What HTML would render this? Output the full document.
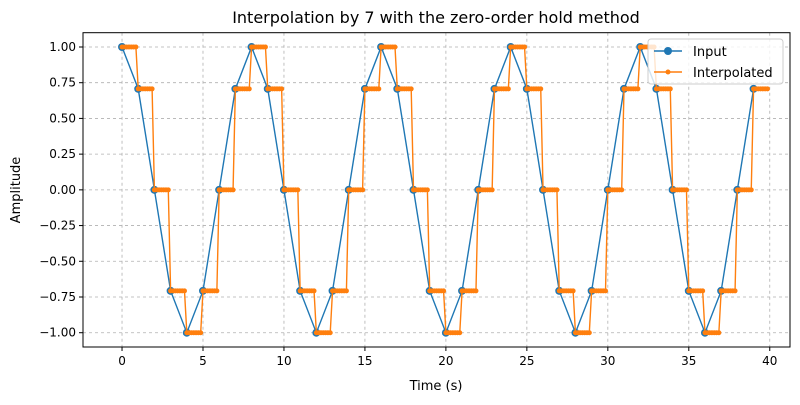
<!DOCTYPE html>
<html><head><meta charset="utf-8"><style>
body{margin:0;background:#fff;}
svg text{font-family:"DejaVu Sans","Liberation Sans",sans-serif;fill:#000;}
</style></head><body>
<svg id="chart" width="800" height="400" viewBox="0 0 800 400" xmlns="http://www.w3.org/2000/svg">
<rect width="800" height="400" fill="#fff"/>
<text x="436" y="23" font-size="16" text-anchor="middle">Interpolation by 7 with the zero-order hold method</text>
<g id="grid"></g>
<g id="ticks"></g>
<g id="series"></g>
<rect x="83" y="32.7" width="707" height="314.3" fill="none" stroke="#000" stroke-width="1"/>
<text x="436" y="390" font-size="13" text-anchor="middle">Time (s)</text>
<text x="20" y="190" font-size="13" text-anchor="middle" transform="rotate(-90 20 190)">Amplitude</text>
<g>
<rect x="648" y="39" width="135" height="45" rx="3" fill="#fff" fill-opacity="0.8" stroke="#ccc"/>
<line x1="654" y1="51" x2="682" y2="51" stroke="#1f77b4" stroke-width="1.4"/>
<circle cx="668" cy="51" r="4" fill="#1f77b4"/>
<text x="693" y="56" font-size="13">Input</text>
<line x1="654" y1="72" x2="682" y2="72" stroke="#ff7f0e" stroke-width="1.4"/>
<circle cx="668" cy="72" r="2.5" fill="#ff7f0e"/>
<text x="693" y="77" font-size="13">Interpolated</text>
</g>
</svg>
<script>
const inputTimes=[0,1,2,3,4,5,6,7,8,9,10,11,12,13,14,15,16,17,18,19,20,21,22,23,24,25,26,27,28,29,30,31,32,33,34,35,36,37,38,39];
const inputValues=[1,0.707,0,-0.707,-1,-0.707,0,0.707,1,0.707,0,-0.707,-1,-0.707,0,0.707,1,0.707,0,-0.707,-1,-0.707,0,0.707,1,0.707,0,-0.707,-1,-0.707,0,0.707,1,0.707,0,-0.707,-1,-0.707,0,0.707];
const holdFactor=7;
const xTicks=[0,5,10,15,20,25,30,35,40];
const yTicks=[-1,-0.75,-0.5,-0.25,0,0.25,0.5,0.75,1];
const yTickLabels=["−1.00","−0.75","−0.50","−0.25","0.00","0.25","0.50","0.75","1.00"];
const NS="http://www.w3.org/2000/svg";
const X0=83,X1=790,Y0=32.7,Y1=347,xmin=-2.41,xmax=41.25,ymin=-1.1,ymax=1.1;
function sx(v){return X0+(v-xmin)/(xmax-xmin)*(X1-X0);}
function sy(v){return Y1-(v-ymin)/(ymax-ymin)*(Y1-Y0);}
function mk(tag,attrs,parent){const e=document.createElementNS(NS,tag);for(const k in attrs)e.setAttribute(k,attrs[k]);parent.appendChild(e);return e;}
const grid=document.getElementById('grid'),ticks=document.getElementById('ticks'),series=document.getElementById('series');
xTicks.forEach(t=>{const x=sx(t);
const g=mk('line',{x1:x,x2:x,y1:Y0,y2:Y1,stroke:'#b0b0b0','stroke-width':0.8,'stroke-dasharray':'3,3'},grid);


mk('line',{x1:x,x2:x,y1:Y1,y2:Y1+4,stroke:'#000','stroke-width':1},ticks);
const tx=mk('text',{x:x,y:Y1+18,'font-size':12,'text-anchor':'middle'},ticks);tx.textContent=t;

});
yTicks.forEach((t,i)=>{const y=sy(t);
const g=mk('line',{x1:X0,x2:X1,y1:y,y2:y,stroke:'#b0b0b0','stroke-width':0.8,'stroke-dasharray':'3,3'},grid);


mk('line',{x1:X0-4,x2:X0,y1:y,y2:y,stroke:'#000','stroke-width':1},ticks);
const tx=mk('text',{x:X0-7,y:y+4,'font-size':12,'text-anchor':'end'},ticks);tx.textContent=yTickLabels[i];

});
// input series
const ip=mk('polyline',{points:inputTimes.map((t,i)=>sx(t)+','+sy(inputValues[i])).join(' '),fill:'none',stroke:'#1f77b4','stroke-width':1.4},series);


inputTimes.forEach((t,i)=>{const c=mk('circle',{cx:sx(t),cy:sy(inputValues[i]),r:4,fill:'#1f77b4'},series);

});
// interpolated (zero-order hold)
const it=[],iv=[];
inputValues.forEach((v,i)=>{for(let k=0;k<holdFactor;k++){it.push(inputTimes[i]+k/holdFactor);iv.push(v);}});
const pl=mk('polyline',{points:it.map((t,i)=>sx(t)+','+sy(iv[i])).join(' '),fill:'none',stroke:'#ff7f0e','stroke-width':1.4},series);


it.forEach((t,i)=>{const c=mk('circle',{cx:sx(t),cy:sy(iv[i]),r:2.5,fill:'#ff7f0e'},series);

});
</script>
</body></html>
